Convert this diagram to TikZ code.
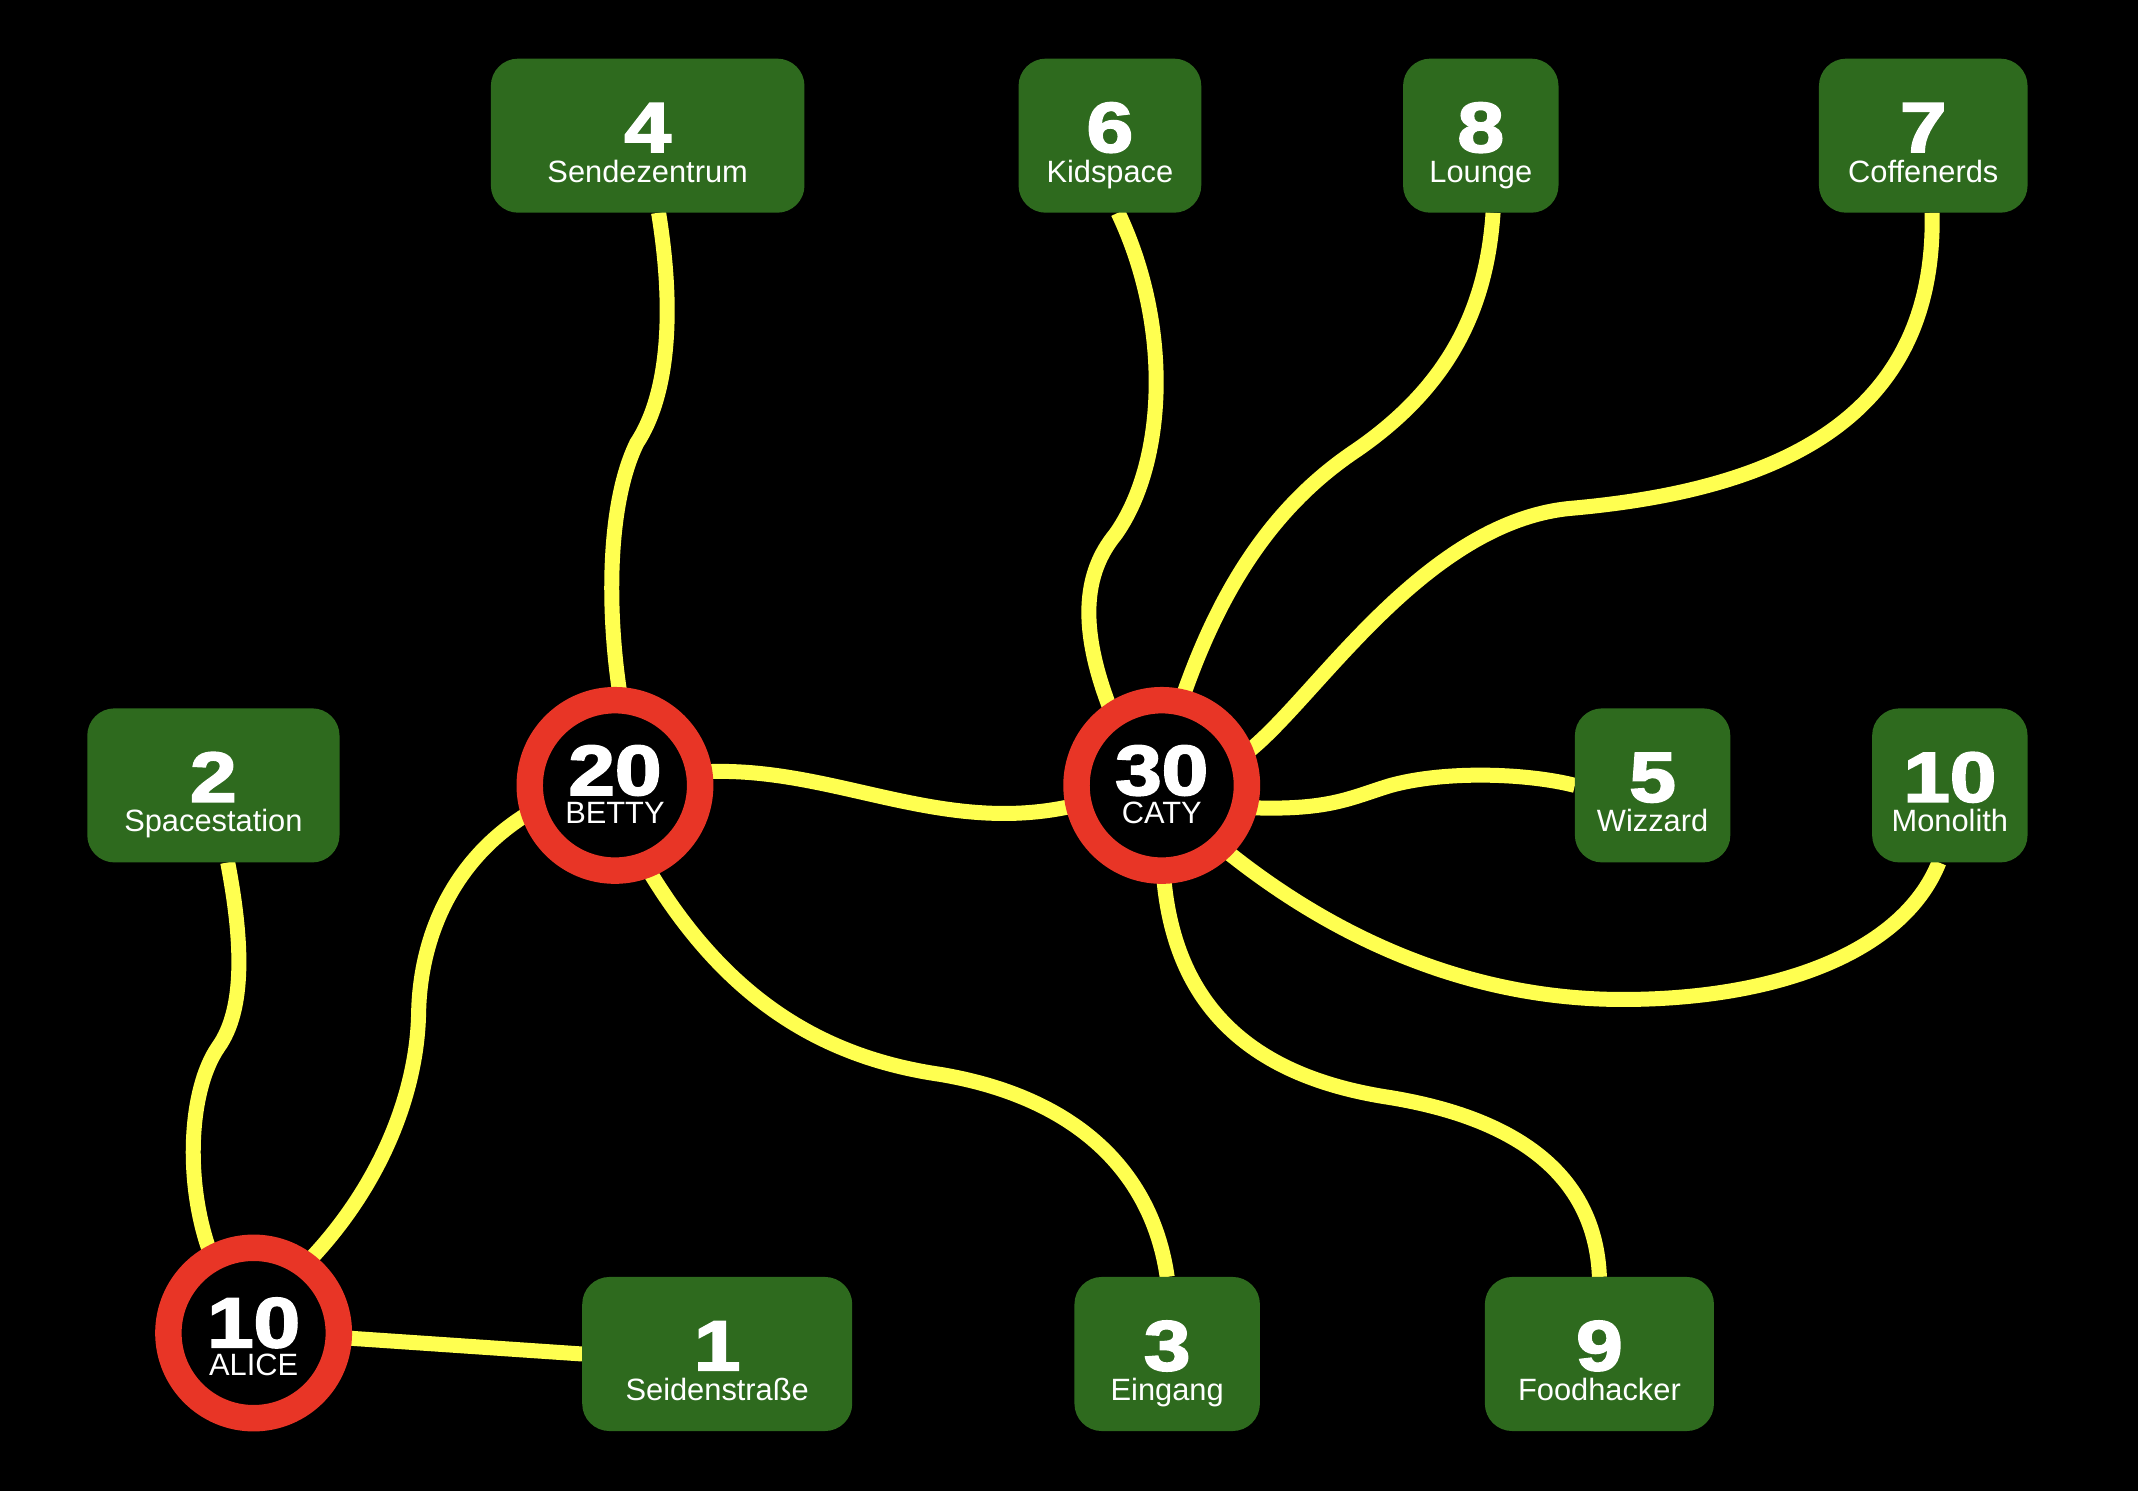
\documentclass[tikz,border=0pt]{standalone}
\usepackage{fontspec}
\usepackage{graphicx}
\setmainfont{Liberation Sans}
\newfontfamily\numfont[BoldFeatures={FakeBold=2.5}]{Liberation Sans}
\usetikzlibrary{calc}
\definecolor{boxgreen}{RGB}{46,106,30}
\definecolor{ringred}{RGB}{232,53,38}
\definecolor{edgeyellow}{RGB}{255,255,80}
\pgfdeclarelayer{bg}
\pgfsetlayers{bg,main}
\tikzset{
 roombox/.style={rectangle, rounded corners=10pt, fill=boxgreen, minimum height=56.5pt, inner sep=0pt, outer sep=0pt},
 hub/.style={circle, draw=ringred, line width=9.7pt, fill=black, minimum size=62.5pt, inner sep=0pt, outer sep=0pt},
 numtxt/.style={text=white, font=\numfont\fontsize{26}{30}\selectfont\bfseries, anchor=base, inner sep=0pt},
 lbltxt/.style={text=white, font=\fontsize{11.3}{13}\selectfont, anchor=base, inner sep=0pt},
 edge/.style={draw=edgeyellow, line width=5.5pt}
}
\newcommand\widenum[1]{\scalebox{1.18}[1]{#1}}
\newcommand\mkroom[6]{%
 \node[roombox, minimum width=#4] (#1) at (#2,#3) {};
 \node[numtxt] (#1num) at ($(#1.center)+(0,12)$) {\widenum{#5}};
 \node[lbltxt] (#1lbl) at ($(#1.center)+(0,34)$) {#6};
}
\newcommand\mkhub[6]{%
 \node[hub] (#1) at (#2,#3) {};
 \node[numtxt] (#1num) at ($(#1.center)+(0,#6)$) {\widenum{#4}};
 \node[lbltxt] (#1lbl) at ($(#1.center)+(0,#6+21)$) {#5};
}
\begin{document}
\begin{tikzpicture}[x=0.5pt,y=-0.5pt]
\useasboundingbox (0,0) rectangle (1568,1092.8);
\begin{pgfonlayer}{bg}
\fill[black] (-10,-10) rectangle (1578,1102);
\end{pgfonlayer}
\mkroom{n4}{475}{99.5}{115pt}{4}{Sendezentrum}
\mkroom{n6}{814}{99.5}{67pt}{6}{Kidspace}
\mkroom{n8}{1086}{99.5}{57pt}{8}{Lounge}
\mkroom{n7}{1410.5}{99.5}{76.5pt}{7}{Coffenerds}
\mkroom{n2}{156.5}{576}{92.5pt}{2}{Spacestation}
\mkroom{n5}{1212}{576}{57pt}{5}{Wizzard}
\mkroom{n10}{1430}{576}{57pt}{10}{Monolith}
\mkroom{n1}{526}{993}{99pt}{1}{Seidenstraße}
\mkroom{n3}{856}{993}{68pt}{3}{Eingang}
\mkroom{n9}{1173}{993}{84pt}{9}{Foodhacker}
\mkhub{betty}{451}{576}{20}{BETTY}{7}
\mkhub{caty}{852}{576}{30}{CATY}{7}
\mkhub{alice}{186}{977.6}{10}{ALICE}{10.5}
\begin{pgfonlayer}{bg}
\draw[edge] ($(n4.south)+(8,0)$) .. controls (495,230) and (490,290) .. (467,325) .. controls (445,370) and (445,450) .. (betty.86);
\draw[edge] (betty.9) .. controls (610,560) and (690,615) .. (caty.193);
\draw[edge] (betty.197) .. controls (330,630) and (308,690) .. (307,743) .. controls (306,800) and (280,870) .. (alice.53);
\draw[edge] ($(n2.south)+(10.5,0)$) .. controls (178,690) and (180,740) .. (160,768) .. controls (138,800) and (135,870) .. (alice.119);
\draw[edge] (alice.-3.5) -- (n1.west);
\draw[edge] (betty.-69) .. controls (530,730) and (600,775) .. (690,788) .. controls (790,805) and (845,860) .. (n3.north);
\draw[edge] (caty.125) .. controls (790,460) and (795,420) .. (818,392) .. controls (855,340) and (860,240) .. ($(n6.south)+(6,0)$);
\draw[edge] (caty.77) .. controls (895,430) and (935,370) .. (995,330) .. controls (1060,285) and (1090,230) .. ($(n8.south)+(9,0)$);
\draw[edge] (caty.20) .. controls (960,520) and (1040,385) .. (1150,373) .. controls (1300,360) and (1420,310) .. ($(n7.south)+(6.5,0)$);
\draw[edge] (caty.-15) .. controls (975,595) and (990,585) .. (1020,576) .. controls (1060,565) and (1120,567) .. (n5.west);
\draw[edge] (caty.-46) .. controls (980,690) and (1080,733) .. (1190,733) .. controls (1300,733) and (1395,700) .. ($(n10.south)+(-8,0)$);
\draw[edge] (caty.-89) .. controls (860,740) and (920,790) .. (1020,805) .. controls (1110,820) and (1170,860) .. (n9.north);
\end{pgfonlayer}
\end{tikzpicture}
\end{document}
